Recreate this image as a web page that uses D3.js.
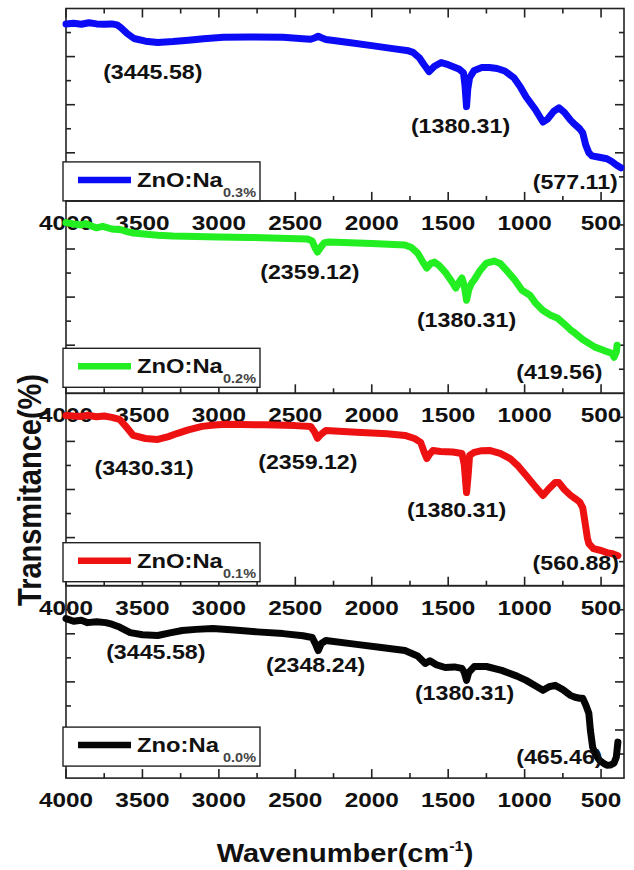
<!DOCTYPE html>
<html>
<head>
<meta charset="utf-8">
<script src="https://cdn.jsdelivr.net/npm/d3@7"></script>
<style>
  body { margin: 0; background: #fff; }
  svg { display: block; }
  text { font-family: Arial, "Liberation Sans", sans-serif; font-weight: bold; fill: #111; }
</style>
</head>
<body>
<svg id="chart" width="634" height="870"></svg>
<script>
// FTIR transmittance spectra of Na-doped ZnO, one stacked panel per doping level
const sampleNames = ["ZnO:Na", "ZnO:Na", "ZnO:Na", "Zno:Na"];
const dopingLevels = ["0.3%", "0.2%", "0.1%", "0.0%"];
const seriesColors = ["#0b0bf5", "#22ee22", "#ee1111", "#050505"];

const xTickValues = [4000, 3500, 3000, 2500, 2000, 1500, 1000, 500];

const wave03 = [4000, 3950, 3900, 3850, 3800, 3750, 3700, 3666, 3640, 3600, 3555, 3480, 3400, 3300, 3200, 3100, 2970, 2800, 2580, 2450, 2400, 2370, 2350, 2320, 2300, 2150, 2000, 1850, 1760, 1730, 1690, 1660, 1625, 1590, 1546, 1500, 1430, 1400, 1390, 1380, 1372, 1360, 1330, 1280, 1230, 1180, 1130, 1070, 1030, 990, 930, 880, 850, 810, 776, 740, 700, 670, 640, 620, 600, 580, 560, 520, 462, 430, 400, 370];
const trans03 = [92, 92.3, 91.8, 92.6, 92, 91.8, 92, 91.5, 90, 87, 84.4, 83, 82.3, 82.8, 83.5, 84.3, 85, 85.2, 85, 84.3, 84, 84.8, 85.6, 84.5, 83.9, 82.3, 80.7, 79, 78, 77.2, 74.5, 71, 67.2, 70, 71.9, 70.8, 68.6, 66.5, 60, 49, 58, 64, 67.8, 69.3, 69.3, 68.8, 67.5, 64, 59.5, 54, 47.5, 41, 42.5, 46.5, 48.4, 46, 42, 39.6, 37.5, 35.4, 29, 25, 23.4, 22.8, 21.9, 20.5, 18.7, 17.2];

const wave02 = [4000, 3950, 3900, 3870, 3830, 3800, 3760, 3700, 3640, 3600, 3560, 3400, 3300, 3000, 2800, 2600, 2420, 2390, 2370, 2355, 2335, 2310, 2280, 2000, 1783, 1740, 1700, 1660, 1640, 1615, 1590, 1560, 1520, 1480, 1450, 1425, 1410, 1395, 1380, 1365, 1345, 1330, 1290, 1250, 1200, 1160, 1120, 1070, 1017, 965, 930, 880, 830, 783, 740, 700, 670, 620, 540, 480, 430, 415, 400, 395];
const trans02 = [88.7, 88, 87.5, 88.2, 86.8, 86, 86.8, 85.4, 85, 84, 83.3, 82.2, 81.8, 81.3, 81, 80.6, 80.2, 79.2, 75.5, 73.4, 75.8, 78.3, 78.6, 77.9, 77.1, 75.8, 72.9, 67.5, 65.1, 67.5, 68.2, 66.5, 63, 58.5, 54.7, 58.2, 59.9, 56, 48.4, 54, 57.5, 58.9, 64, 67.7, 68.75, 67.5, 64, 59.5, 53.6, 51, 47, 43, 40.6, 39, 36, 33, 31.25, 28, 24, 22.2, 20.8, 18.75, 21.5, 25];

const wave01 = [4000, 3950, 3900, 3860, 3800, 3750, 3700, 3650, 3600, 3560, 3480, 3400, 3330, 3270, 3200, 3110, 3030, 2950, 2700, 2500, 2400, 2375, 2355, 2335, 2300, 2100, 1900, 1783, 1720, 1680, 1655, 1640, 1620, 1600, 1550, 1470, 1410, 1395, 1380, 1370, 1360, 1330, 1280, 1230, 1160, 1095, 1040, 990, 930, 880, 840, 800, 776, 740, 700, 670, 640, 620, 605, 590, 580, 550, 500, 462, 420, 390];
const trans01 = [88.5, 88.2, 88, 88.6, 87.8, 88.2, 87.5, 86.5, 82, 78.1, 76.5, 76, 77.5, 79.2, 81, 82.8, 83.5, 83.9, 83.6, 83.2, 82.8, 80, 76.6, 78.5, 80.7, 79.8, 79, 78.1, 76.5, 74.5, 69, 66.1, 68.5, 70.3, 69.8, 69.5, 68.75, 63, 48.4, 57, 67.7, 69.3, 70.2, 70.3, 68.8, 66.1, 62, 57.3, 51.5, 46.9, 50.5, 53.6, 53.6, 50, 47, 45.3, 43.5, 40.6, 33, 25, 21.9, 19.3, 18.3, 17.2, 16.5, 15.6];

const wave00 = [4000, 3950, 3900, 3860, 3800, 3740, 3700, 3650, 3580, 3500, 3400, 3320, 3240, 3150, 3040, 2900, 2750, 2580, 2450, 2390, 2370, 2350, 2330, 2300, 2100, 1950, 1783, 1700, 1650, 1620, 1580, 1520, 1460, 1410, 1395, 1380, 1365, 1330, 1250, 1150, 1050, 990, 930, 880, 840, 800, 750, 700, 670, 640, 620, 600, 580, 570, 555, 535, 510, 480, 462, 440, 415, 400, 390];
const trans00 = [82.9, 81.5, 82, 80.8, 81.3, 80.8, 80, 78.5, 75.6, 74.5, 74.1, 75.5, 76.7, 77.3, 77.7, 77, 76, 75.1, 74, 73.1, 70, 66.3, 70, 71.5, 69.5, 68, 66.3, 63.5, 59.6, 61, 59, 57.5, 57.8, 57, 55, 50.8, 55, 58, 58, 56, 53, 50.8, 48, 45.6, 47.5, 48.2, 46, 43, 42, 41.5, 41.5, 38, 33.7, 25, 16, 12, 9.3, 7.5, 6.7, 6.8, 7.8, 11, 18.7];

// Marked absorption bands (cm-1) for each panel
const peaks03 = [3445.58, 1380.31, 577.11];
const peaks02 = [2359.12, 1380.31, 419.56];
const peaks01 = [3430.31, 2359.12, 1380.31, 560.88];
const peaks00 = [3445.58, 2348.24, 1380.31, 465.46];

// Label placement next to each band: horizontal shift (px) and level (y units)
const peakLayout = [
  [[2, 67], [-6, 38.9], [-14, 9.8]],
  [[-7, 63], [0, 38.1], [-54, 11.1]],
  [[-9, 61.2], [-9, 64.3], [-10, 39.3], [-16, 11.8]],
  [[5, 65.5], [-3, 58.8], [-2, 44.2], [-47, 11]]
];
// Bottom edge of each legend box, relative to the panel bottom
const legendBottomGap = [0, 6, 4, 12];

const waves = [wave03, wave02, wave01, wave00];
const trans = [trans03, trans02, trans01, trans00];
const peaks = [peaks03, peaks02, peaks01, peaks00];

const svg = d3.select("#chart");
const plotLeft = 66, plotRight = 624, plotTop = 8.5, panelH = 192.4;
const stretch = 1.16;   // wide lettering

const x = d3.scaleLinear().domain([4000, 350]).range([plotLeft, plotRight]);

const line = d3.line().x(d => x(d[0])).y(d => d[2](d[1])).curve(d3.curveLinear);

const majorY = [25, 50, 75], minorY = [12.5, 37.5, 62.5, 87.5];
const majorX = xTickValues;
const minorX = d3.range(3750, 500, -500);

function wideText(g, tx, ty, str, size, anchor) {
  return g.append("text")
    .attr("transform", `translate(${tx},${ty}) scale(${stretch},1)`)
    .attr("text-anchor", anchor || "middle")
    .attr("font-size", size)
    .text(str);
}

const panels = [];
for (let i = 0; i < 4; i++) {
  const y0 = plotTop + i * panelH, y1 = y0 + panelH;
  const y = d3.scaleLinear().domain([0, 100]).range([y1, y0]);
  panels.push({ y0, y1, y });
}

// x tick labels sit below each panel, under the next panel's curve
const labelLayer = svg.append("g");
panels.forEach(p => {
  majorX.forEach(v => {
    wideText(labelLayer, x(v), p.y1 + 29, v, 21);
  });
});

panels.forEach((p, i) => {
  const g = svg.append("g");
  // frame
  g.append("rect").attr("x", plotLeft).attr("y", p.y0).attr("width", plotRight - plotLeft).attr("height", panelH)
    .attr("fill", "none").attr("stroke", "#222").attr("stroke-width", 1.6);

  const tickG = g.append("g").attr("stroke", "#222").attr("stroke-width", 1.6);
  // bottom x ticks (and top ticks on the first panel)
  const xTicks = [...majorX.map(v => [v, 9]), ...minorX.map(v => [v, 5])];
  xTicks.forEach(([v, len]) => {
    tickG.append("line").attr("x1", x(v)).attr("x2", x(v)).attr("y1", p.y1).attr("y2", p.y1 - len);
    if (i === 0) tickG.append("line").attr("x1", x(v)).attr("x2", x(v)).attr("y1", p.y0).attr("y2", p.y0 + len);
  });
  const yTicks = [...majorY.map(v => [v, 9]), ...minorY.map(v => [v, 5])];
  yTicks.forEach(([v, len]) => {
    tickG.append("line").attr("x1", plotLeft).attr("x2", plotLeft + len).attr("y1", p.y(v)).attr("y2", p.y(v));
    tickG.append("line").attr("x1", plotRight).attr("x2", plotRight - len).attr("y1", p.y(v)).attr("y2", p.y(v));
  });

  // spectrum
  const pts = waves[i].map((w, k) => [w, trans[i][k], p.y]);
  g.append("path").datum(pts).attr("d", line)
    .attr("fill", "none").attr("stroke", seriesColors[i])
    .attr("stroke-width", 7).attr("stroke-linejoin", "round").attr("stroke-linecap", "round");

  // band labels
  peaks[i].forEach((pk, k) => {
    const [dx, lvl] = peakLayout[i][k];
    wideText(g, x(pk) + dx, p.y(lvl) + 7, `(${pk.toFixed(2)})`, 20);
  });

  // legend
  const lb = p.y1 - legendBottomGap[i], lt = lb - 39;
  const lg = g.append("g");
  lg.append("rect").attr("x", 63).attr("y", lt).attr("width", 197).attr("height", 39)
    .attr("fill", "#fff").attr("stroke", "#222").attr("stroke-width", 1.4);
  lg.append("line").attr("x1", 78).attr("x2", 131).attr("y1", lt + 18).attr("y2", lt + 18)
    .attr("stroke", seriesColors[i]).attr("stroke-width", 6.5);
  wideText(lg, 137, lt + 25, sampleNames[i], 20.5, "start");
  wideText(lg, 223, lt + 35, dopingLevels[i], 12.5, "start").style("fill", "#444");
});

// axis titles
const xTitle = svg.append("text")
  .attr("transform", `translate(345,862) scale(${stretch},1)`)
  .attr("text-anchor", "middle").attr("font-size", 25);
xTitle.append("tspan").text("Wavenumber(cm");
xTitle.append("tspan").attr("font-size", 14).attr("dy", -11).text("-1");
xTitle.append("tspan").attr("dy", 11).text(")");

svg.append("text")
  .attr("transform", "translate(41,490) rotate(-90) scale(1,1.16)")
  .attr("text-anchor", "middle").attr("font-size", 29)
  .text("Transmitance(%)");
</script>
</body>
</html>
